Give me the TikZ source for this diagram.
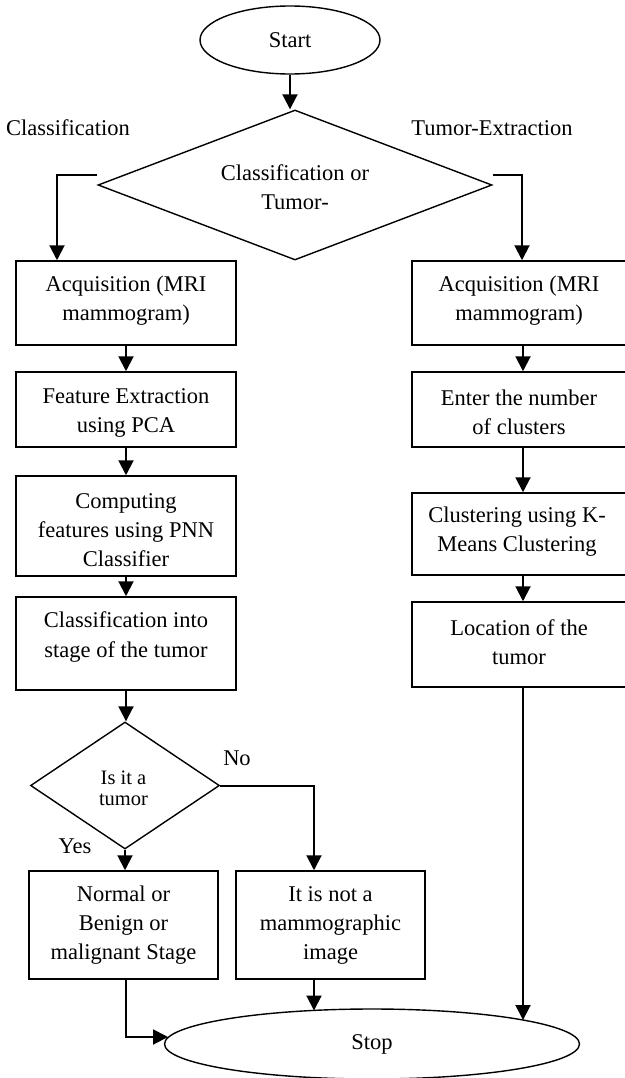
\documentclass[tikz,border=0pt]{standalone}
\usepackage{fontspec}
\setmainfont{Liberation Serif}
\usetikzlibrary{shapes.geometric,arrows.meta,calc}
\begin{document}
\begin{tikzpicture}[x=1pt,y=-1pt,
  box/.style={draw,line width=1.5pt,rectangle,inner sep=0pt},
  ell/.style={draw,line width=1.4pt,ellipse,inner sep=0pt},
  dia/.style={draw,line width=1.4pt,diamond,inner sep=0pt},
  txt/.style={align=center,inner sep=0pt,font=\fontsize{22.5}{29}\selectfont},
  stxt/.style={align=center,inner sep=0pt,font=\fontsize{20.5}{21}\selectfont},
  arr/.style={line width=2pt,-{Triangle[length=15pt,width=15pt]}}]
\useasboundingbox (0,0) rectangle (624,1078);
% shapes
\node[ell,minimum width=180pt,minimum height=68pt] (start) at (290,40) {};
\node[dia,minimum width=394pt,minimum height=150pt] (d1) at (295,185) {};
\node[box,minimum width=220pt,minimum height=84pt] (l1) at (126,303) {};
\node[box,minimum width=220pt,minimum height=75pt] (l2) at (126,409.5) {};
\node[box,minimum width=220pt,minimum height=100pt] (l3) at (126,526) {};
\node[box,minimum width=220pt,minimum height=93pt] (l4) at (126,643.5) {};
\node[box,minimum width=214pt,minimum height=84pt] (r1) at (519,303) {};
\node[box,minimum width=214pt,minimum height=75pt] (r2) at (519,409.5) {};
\node[box,minimum width=214pt,minimum height=82pt] (r3) at (519,534) {};
\node[box,minimum width=214pt,minimum height=85pt] (r4) at (519,644.5) {};
\node[dia,minimum width=189pt,minimum height=127pt] (d2) at (125,785.5) {};
\node[box,minimum width=189pt,minimum height=108pt] (nb) at (123.5,925) {};
\node[box,minimum width=189pt,minimum height=108pt] (nm) at (330.5,925) {};
\node[ell,minimum width=415pt,minimum height=70pt] (stop) at (372,1044) {};
% texts
\node[txt] (tstart) at (290,40.5) {Start};
\node[txt] (td1) at (295,187.5) {Classification or\\Tumor-};
\node[txt] (lcl) at (68,128) {Classification};
\node[txt] (lte) at (492,128) {Tumor-Extraction};
\node[txt] (tl1) at (126,301) {Acquisition (MRI\\mammogram)};
\node[txt] (tl2) at (126,412.5) {Feature Extraction\\using PCA};
\node[txt] (tl3) at (126,530) {Computing\\features using PNN\\Classifier};
\node[txt] (tl4) at (126,637) {Classification into\\stage of the tumor};
\node[txt] (tr1) at (519,301) {Acquisition (MRI\\mammogram)};
\node[txt] (tr2) at (519,412.5) {Enter the number\\of clusters};
\node[txt] (tr3) at (517,532) {Clustering using K-\\Means Clustering};
\node[txt] (tr4) at (519,642.5) {Location of the\\tumor};
\node[stxt] (td2) at (123.5,788.5) {Is it a\\tumor};
\node[txt] (lno) at (237,758) {No};
\node[txt] (lyes) at (75,846) {Yes};
\node[txt] (tn) at (123.5,925.5) {Normal or\\Benign or\\malignant Stage};
\node[txt] (tm) at (330.5,925.5) {It is not a\\mammographic\\image};
\node[txt] (tstop) at (372,1044) {Stop};
% connectors
\coordinate (lk) at (57,175);
\coordinate (rk) at (522,175);
\coordinate (rx) at (523,0);
\coordinate (nk) at (314,788);
\coordinate (bk) at (126,1037);
\coordinate (s1) at (168,1037);
\coordinate (s2) at (314,1010.5);
\coordinate (s3) at (523,1020);
\draw[arr] (start.south) -- (start.south |- d1.north);
\draw[arr] ($(d1.west)+(0,-10)$) -- (lk) -- (lk |- l1.north);
\draw[arr] ($(d1.east)+(0,-10)$) -- (rk) -- (rk |- r1.north);
\draw[arr] (l1.south) -- (l2.north);
\draw[arr] (l2.south) -- (l3.north);
\draw[arr] (l3.south) -- (l4.north);
\draw[arr] (l4.south) -- (l4.south |- d2.north);
\draw[arr] (r1.south -| rx) -- (r2.north -| rx);
\draw[arr] (r2.south -| rx) -- (r3.north -| rx);
\draw[arr] (r3.south -| rx) -- (r4.north -| rx);
\draw[arr] (r4.south -| rx) -- (s3);
\draw[arr] (d2.south) -- (d2.south |- nb.north);
\draw[arr] (d2.east) -- (d2.east -| nk) -- (nk |- nm.north);
\draw[arr] (nm.south -| nk) -- (s2);
\draw[arr] (nb.south -| bk) -- (bk) -- (s1);
\end{tikzpicture}
\end{document}
